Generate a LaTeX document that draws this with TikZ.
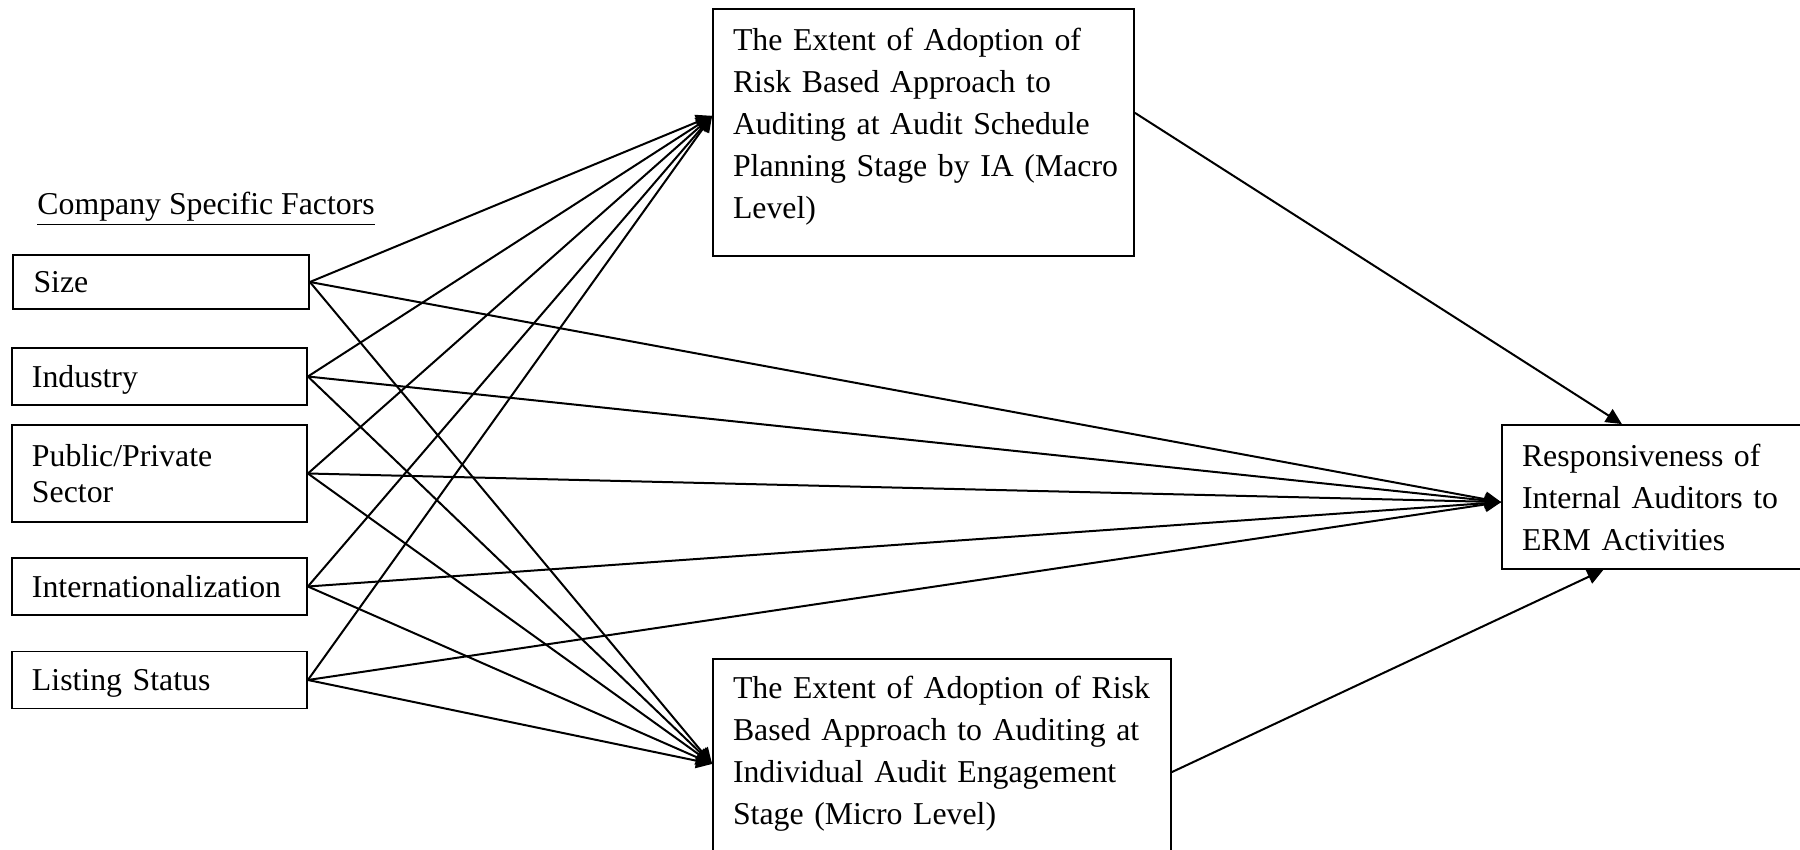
\documentclass[tikz,border=0pt]{standalone}
\usepackage{fontspec}
\setmainfont{Liberation Serif}
\usetikzlibrary{arrows.meta,calc}
\begin{document}
\begin{tikzpicture}[x=0.5pt,y=-0.5pt,
  box/.style={draw, line width=0.9pt, inner xsep=10pt, inner ysep=0pt, align=left,
    font=\fontsize{15.9}{21}\selectfont},
  factor/.style={box, text width=127.5pt, minimum width=147.5pt, text height=12pt, text depth=1.5pt},
  arr/.style={line width=1pt, -{Triangle[length=8pt,width=7.5pt]}}]
\useasboundingbox[fill=white] (0,0) rectangle (1800,850);

\node[anchor=base west, inner sep=0pt, font=\fontsize{15.9}{21}\selectfont] (csf) at (37,215) {\underline{Company Specific Factors}};

\node[factor, minimum width=148pt, minimum height=27pt] (size) at (161,282) {Size};
\node[factor, minimum height=28.5pt] (ind) at (159.5,376.5) {Industry};
\node[box, text width=127.5pt, minimum width=147.5pt, minimum height=48.5pt,
  font=\fontsize{15.9}{18}\selectfont] (pub) at (159.5,473.5) {Public/Private\\Sector};
\node[factor, minimum height=28.5pt] (intl) at (159.5,586.5) {Internationalization};
\node[factor, minimum height=28.5pt] (list) at (159.5,680) {Listing Status};

\node[box, text width=190.5pt, minimum width=210.5pt, minimum height=123.5pt] (macro) at (923.5,132.5)
  {\mbox{The Extent of Adoption of}\\\mbox{Risk Based Approach to}\\\mbox{Auditing at Audit Schedule}\\\mbox{Planning Stage by IA (Macro}\\Level)\rule[-9pt]{0pt}{0pt}};
\node[box, text width=209pt, minimum width=229pt, minimum height=100.5pt] (micro) at (942,759.5)
  {\mbox{The Extent of Adoption of Risk}\\\mbox{Based Approach to Auditing at}\\\mbox{Individual Audit Engagement}\\Stage (Micro Level)\rule[-9pt]{0pt}{0pt}};
\node[box, text width=134pt, minimum width=154pt, minimum height=72pt] (erm) at (1656,497)
  {Responsiveness of\\\mbox{Internal Auditors to}\\ERM Activities};

\coordinate (macroin) at ($(macro.north west)!0.433!(macro.south west)$);
\coordinate (microin) at ($(micro.north west)!0.522!(micro.south west)$);
\coordinate (ermin) at ($(erm.north west)!0.535!(erm.south west)$);
\coordinate (macroout) at ($(macro.north east)!0.421!(macro.south east)$);
\coordinate (microout) at ($(micro.north east)!0.562!(micro.south east)$);
\coordinate (ermtop) at ($(erm.north west)!0.39!(erm.north east)$);
\coordinate (ermbot) at ($(erm.south west)!0.33!(erm.south east)$);

\foreach \f in {size,ind,pub,intl,list}{
  \draw[arr] (\f.east) -- (macroin);
  \draw[arr] (\f.east) -- (ermin);
  \draw[arr] (\f.east) -- (microin);
}
\draw[arr] (macroout) -- (ermtop);
\draw[arr] (microout) -- (ermbot);
\end{tikzpicture}
\end{document}
